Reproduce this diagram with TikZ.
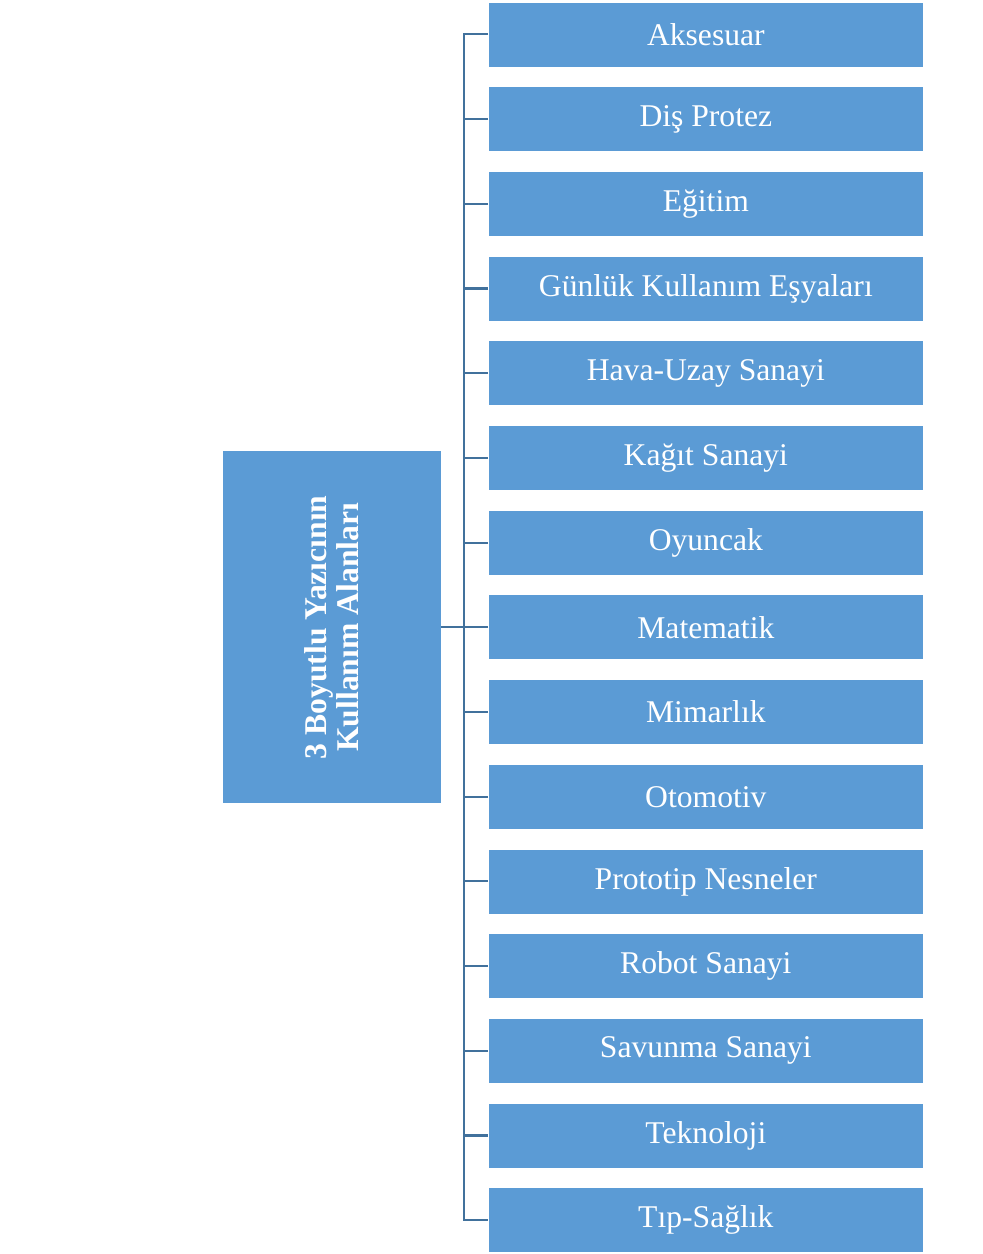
\documentclass[tikz,border=0pt]{standalone}
\usepackage{fontspec}
\setmainfont{Liberation Serif}
\usepackage{xcolor}
\usepackage{tikz}
\usetikzlibrary{positioning,calc}
\definecolor{BoxBlue}{HTML}{5B9BD5}
\definecolor{LineBlue}{HTML}{41719C}

\begin{document}
\begin{tikzpicture}[font=\fontsize{18}{18}\selectfont,node distance=0.38cm]
  \useasboundingbox (0,0) rectangle (19.66,-25.08);
  \tikzstyle{area}=[draw=white,line width=0.4pt,fill=BoxBlue,text=white,minimum height=1.3cm,minimum width=8.7cm,inner sep=0pt]
  \tikzstyle{head}=[draw=white,line width=0.4pt,fill=BoxBlue,text=white,minimum height=4.38cm,minimum width=7.06cm,inner sep=0pt,align=center,rotate=90,font=\fontsize{18}{18}\selectfont\bfseries]
  \tikzstyle{link}=[draw=LineBlue,line width=1.2pt]
  \node[area,anchor=north west] (b1) at (9.76,-0.03) {Aksesuar};
  \node[area,below=of b1] (b2)  {Diş Protez};
  \node[area,below=of b2] (b3)  {Eğitim};
  \node[area,below=of b3] (b4)  {Günlük Kullanım Eşyaları};
  \node[area,below=of b4] (b5)  {Hava-Uzay Sanayi};
  \node[area,below=of b5] (b6)  {Kağıt Sanayi};
  \node[area,below=of b6] (b7)  {Oyuncak};
  \node[area,below=of b7] (b8)  {Matematik};
  \node[area,below=of b8] (b9)  {Mimarlık};
  \node[area,below=of b9] (b10) {Otomotiv};
  \node[area,below=of b10] (b11) {Prototip Nesneler};
  \node[area,below=of b11] (b12) {Robot Sanayi};
  \node[area,below=of b12] (b13) {Savunma Sanayi};
  \node[area,below=of b13] (b14) {Teknoloji};
  \node[area,below=of b14] (b15) {Tıp-Sağlık};
  \node[head] (main) at ($(b8.west)+(-3.13,0)$) {3 Boyutlu Yazıcının\\Kullanım Alanları};
  % bus line
  \coordinate (bustop) at ($(b1.west)+(-0.48,0)$);
  \coordinate (busbot) at ($(b15.west)+(-0.48,0)$);
  \draw[link] (b1.west) -- (bustop) -- (busbot) -- (b15.west);
  \foreach \i in {2,...,14}
    \draw[link] (b\i.west) -- (b\i.west -| bustop);
  \draw[link] (main.south) -- (b8.west);
\end{tikzpicture}
\end{document}
